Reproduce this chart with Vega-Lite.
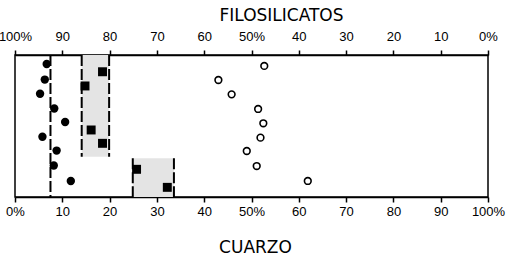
{
  "$schema": "https://vega.github.io/schema/vega-lite/v6.json",
  "autosize": "none",
  "width": 473,
  "height": 142,
  "padding": {"left": 15, "top": 55, "right": 27, "bottom": 60},
  "background": "white",
  "config": {
    "view": {"stroke": "black", "strokeWidth": 1.5},
    "axis": {
      "grid": false,
      "domainColor": "black",
      "domainWidth": 1.5,
      "tickColor": "black",
      "tickWidth": 1.5,
      "tickSize": 5,
      "labelColor": "black",
      "labelFont": "Liberation Sans",
      "labelFontSize": 13,
      "labelFlush": false,
      "labelOverlap": false,
      "titleColor": "black",
      "titleFont": "DejaVu Sans",
      "titleFontSize": 17,
      "titleFontWeight": "normal"
    }
  },
  "datasets": {
    "zonas": [
      {"x1": 14.1, "x2": 19.9, "y1": 0, "y2": 71.6},
      {"x1": 24.9, "x2": 33.6, "y1": 72.7, "y2": 100}
    ],
    "lineas": [
      {"x": 14.1, "y1": 0, "y2": 71.6},
      {"x": 19.9, "y1": 0, "y2": 71.6},
      {"x": 24.9, "y1": 72.7, "y2": 100},
      {"x": 33.6, "y1": 72.7, "y2": 100},
      {"x": 7.5, "y1": 0, "y2": 100}
    ],
    "circulos": [
      {"cuarzo": 6.7, "nivel": 6.3},
      {"cuarzo": 6.3, "nivel": 17.3},
      {"cuarzo": 5.3, "nivel": 27.3},
      {"cuarzo": 8.3, "nivel": 37.7},
      {"cuarzo": 10.6, "nivel": 47.2},
      {"cuarzo": 5.8, "nivel": 57.6},
      {"cuarzo": 8.8, "nivel": 67.3},
      {"cuarzo": 8.2, "nivel": 77.8},
      {"cuarzo": 11.8, "nivel": 88.7}
    ],
    "cuadrados": [
      {"cuarzo": 18.5, "nivel": 11.8},
      {"cuarzo": 14.8, "nivel": 21.8},
      {"cuarzo": 16.1, "nivel": 52.8},
      {"cuarzo": 18.5, "nivel": 62.2},
      {"cuarzo": 25.7, "nivel": 80.5},
      {"cuarzo": 32.2, "nivel": 93.2}
    ],
    "abiertos": [
      {"cuarzo": 52.7, "nivel": 7.7},
      {"cuarzo": 43.0, "nivel": 17.6},
      {"cuarzo": 45.8, "nivel": 27.7},
      {"cuarzo": 51.4, "nivel": 38.0},
      {"cuarzo": 52.5, "nivel": 48.1},
      {"cuarzo": 51.9, "nivel": 58.2},
      {"cuarzo": 49.0, "nivel": 67.6},
      {"cuarzo": 51.1, "nivel": 78.2},
      {"cuarzo": 61.9, "nivel": 88.7}
    ]
  },
  "layer": [
    {
      "data": {"name": "zonas"},
      "mark": {"type": "rect", "fill": "#e4e4e4", "stroke": null},
      "encoding": {
        "x": {
          "field": "x1", "type": "quantitative",
          "scale": {"domain": [0, 100], "nice": false, "zero": false},
          "axis": {
            "orient": "bottom",
            "values": [0, 10, 20, 30, 40, 50, 60, 70, 80, 90, 100],
            "labelExpr": "datum.value == 0 ? '0%' : datum.value == 50 ? '50%' : datum.value == 100 ? '100%' : datum.label",
            "labelPadding": 3,
            "title": "CUARZO",
            "titleX": 240,
            "titleY": 55,
            "titleBaseline": "alphabetic",
            "titleAlign": "center"
          }
        },
        "x2": {"field": "x2"},
        "y": {
          "field": "y1", "type": "quantitative",
          "scale": {"domain": [0, 100], "reverse": true, "nice": false, "zero": false},
          "axis": null
        },
        "y2": {"field": "y2"}
      }
    },
    {
      "data": {"name": "lineas"},
      "mark": {"type": "rule", "color": "black", "strokeWidth": 2, "strokeDash": [11, 3]},
      "encoding": {
        "x": {
          "field": "x", "type": "quantitative",
          "axis": {
            "orient": "top",
            "values": [0, 10, 20, 30, 40, 50, 60, 70, 80, 90, 100],
            "labelExpr": "datum.value == 0 ? '100%' : datum.value == 50 ? '50%' : datum.value == 100 ? '0%' : format(100 - datum.value, 'd')",
            "labelPadding": 7,
            "title": "FILOSILICATOS",
            "titleX": 266,
            "titleY": -35,
            "titleBaseline": "alphabetic",
            "titleAlign": "center"
          }
        },
        "y": {"field": "y1", "type": "quantitative", "axis": null},
        "y2": {"field": "y2"}
      }
    },
    {
      "data": {"name": "circulos"},
      "mark": {"type": "point", "shape": "circle", "filled": true, "color": "black", "size": 70, "opacity": 1},
      "encoding": {
        "x": {"field": "cuarzo", "type": "quantitative", "axis": null},
        "y": {"field": "nivel", "type": "quantitative", "axis": null}
      }
    },
    {
      "data": {"name": "cuadrados"},
      "mark": {"type": "point", "shape": "square", "filled": true, "color": "black", "size": 80, "opacity": 1},
      "encoding": {
        "x": {"field": "cuarzo", "type": "quantitative", "axis": null},
        "y": {"field": "nivel", "type": "quantitative", "axis": null}
      }
    },
    {
      "data": {"name": "abiertos"},
      "mark": {"type": "point", "shape": "circle", "filled": false, "stroke": "black", "strokeWidth": 1.6, "fill": "white", "size": 45, "opacity": 1},
      "encoding": {
        "x": {"field": "cuarzo", "type": "quantitative", "axis": null},
        "y": {"field": "nivel", "type": "quantitative", "axis": null}
      }
    }
  ],
  "resolve": {"scale": {"x": "shared", "y": "shared"}, "axis": {"x": "independent"}}
}
